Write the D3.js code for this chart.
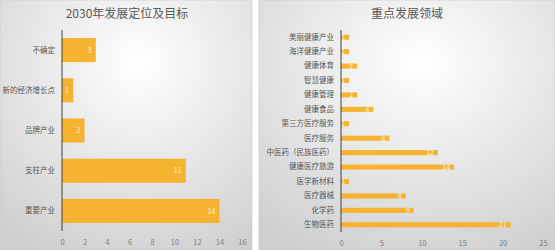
<!DOCTYPE html>
<html>
<head>
<meta charset="utf-8">
<script src="https://cdn.jsdelivr.net/npm/d3@7"></script>
<style>
  body { margin: 0; background: #fff; }
  text { font-family: "Noto Sans CJK SC", "Noto Sans", sans-serif; }
</style>
</head>
<body>
<script>
// left chart data
const leftCats = ["不确定", "新的经济增长点", "品牌产业", "支柱产业", "重要产业"];
const leftVals = [3, 1, 2, 11, 14];
const leftTicks = [0, 2, 4, 6, 8, 10, 12, 14, 16];

// right chart data
const rightCats = ["美丽健康产业", "海洋健康产业", "健康体育", "智慧健康", "健康管理", "健康食品",
  "第三方医疗服务", "医疗服务", "中医药（民族医药）", "健康医疗旅游", "医学新材料", "医疗器械", "化学药", "生物医药"];
const rightVals = [1, 1, 2, 1, 2, 4, 1, 6, 12, 14, 1, 8, 9, 21];
const rightTicks = [0, 5, 10, 15, 20, 25];

const W = 555, H = 250;
const svg = d3.select("body").append("svg").attr("width", W).attr("height", H);

const defs = svg.append("defs");
const grad = defs.append("radialGradient").attr("id", "bg")
  .attr("cx", "55%").attr("cy", "25%").attr("r", "85%");
grad.append("stop").attr("offset", "0%").attr("stop-color", "#ffffff");
grad.append("stop").attr("offset", "100%").attr("stop-color", "#cfcfcf");

function drawPanel(opt) {
  const g = svg.append("g").attr("transform", `translate(${opt.x0},0)`);
  g.append("rect").attr("x", 0).attr("y", 0).attr("width", opt.w).attr("height", H)
    .attr("fill", "url(#bg)").attr("stroke", "#c8c8c8").attr("stroke-width", 0.6);

  g.append("text").attr("x", opt.titleX).attr("y", 18).attr("text-anchor", "middle")
    .attr("font-size", 12).attr("fill", "#595959").text(opt.title);

  const x = d3.scaleLinear().domain([0, opt.max]).range([opt.left, opt.right]);
  const y = d3.scaleBand().domain(opt.cats).range([opt.top, opt.bottom]).paddingInner(opt.pad).paddingOuter(opt.pad / 2);

  // x tick labels
  const xa = g.append("g").attr("transform", `translate(0,${opt.bottom})`)
    .call(d3.axisBottom(x).tickValues(opt.ticks).tickSize(0).tickPadding(9));
  xa.select(".domain").remove();
  xa.selectAll("text").attr("font-size", 7.5).attr("fill", "#7f7f7f").attr("font-family", "Noto Sans CJK SC");

  // y labels
  const ya = g.append("g").attr("transform", `translate(${opt.left},0)`)
    .call(d3.axisLeft(y).tickSize(0).tickPadding(7));
  ya.select(".domain").remove();
  ya.selectAll("text").attr("font-size", opt.catFont).attr("fill", "#595959").attr("font-family", "Noto Sans CJK SC");

  g.selectAll("rect.bar").data(opt.vals).enter().append("rect").attr("class", "bar")
    .attr("x", x(0)).attr("y", (d, i) => y(opt.cats[i]))
    .attr("width", d => x(d) - x(0)).attr("height", y.bandwidth())
    .attr("fill", "#f6b332");

  g.selectAll("text.lbl").data(opt.vals).enter().append("text").attr("class", "lbl")
    .attr("x", d => x(d) - 4).attr("y", (d, i) => y(opt.cats[i]) + y.bandwidth() / 2)
    .attr("dy", "0.35em").attr("text-anchor", "end")
    .attr("font-size", opt.lblFont).attr("fill", "#fdf3dc").text(d => d);

  g.append("line").attr("x1", x(0)).attr("x2", x(0)).attr("y1", opt.top).attr("y2", opt.bottom)
    .attr("stroke", "#404040").attr("stroke-width", 1);
}

drawPanel({
  x0: 0, w: 252, title: "2030年发展定位及目标", titleX: 127,
  cats: leftCats, vals: leftVals, ticks: leftTicks, max: 16,
  left: 62, right: 242, top: 30, bottom: 231, pad: 0.4, catFont: 7.5, lblFont: 7.5
});

drawPanel({
  x0: 259, w: 296, title: "重点发展领域", titleX: 148,
  cats: rightCats, vals: rightVals, ticks: rightTicks, max: 25,
  left: 82, right: 284, top: 30, bottom: 232, pad: 0.65, catFont: 7.5, lblFont: 7
});
</script>
</body>
</html>
